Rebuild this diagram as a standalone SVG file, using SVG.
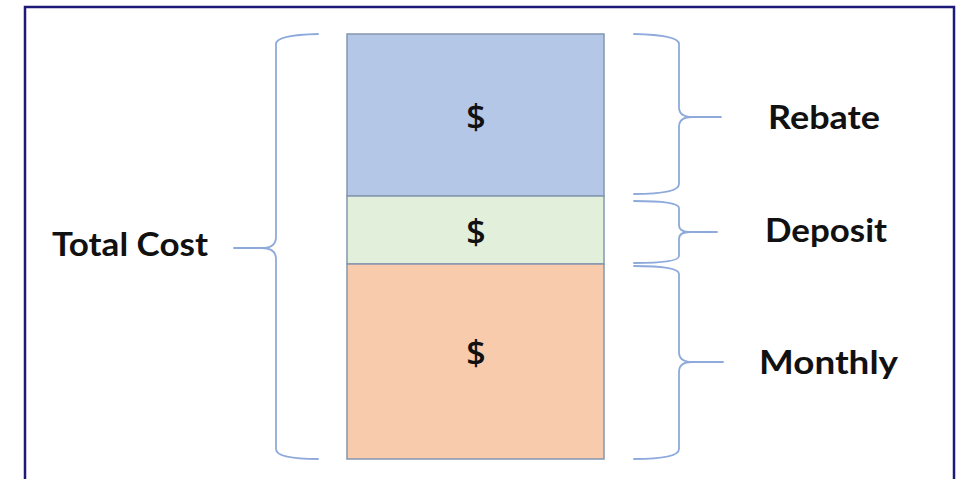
<svg xmlns="http://www.w3.org/2000/svg" width="961" height="479" viewBox="0 0 961 479">
<style>
.lbl{font-family:Lato,"Open Sans","Liberation Sans",sans-serif;font-weight:bold;font-size:32px;fill:#111}
.dol{font-family:"Open Sans",Lato,"Liberation Sans",sans-serif;font-weight:600;font-size:34px;fill:#111;text-anchor:middle}
.seg{stroke:#8497b0;stroke-width:1.5}
.brace{fill:none;stroke:#8eaadb;stroke-width:1.8;stroke-linecap:round}
</style>
<rect x="0" y="0" width="961" height="479" fill="#ffffff"/>
<rect x="25" y="7" width="929" height="500" fill="none" stroke="#1e1a78" stroke-width="2.5"/>
<g id="rebate-seg"><rect class="seg" x="347" y="34" width="257" height="162" fill="#b4c7e7"/><text class="dol" x="476" y="129">$</text></g>
<g id="deposit-seg"><rect class="seg" x="347" y="196" width="257" height="68" fill="#e2efda"/><text class="dol" x="476" y="244">$</text></g>
<g id="monthly-seg"><rect class="seg" x="347" y="264" width="257" height="195" fill="#f8cbad"/><text class="dol" x="476" y="365">$</text></g>
<g id="connectors">
<path class="brace" d="M318,34 Q276,35 276,44 L276,237 Q276,248 262,248 L234,248 M262,248 Q276,248 276,259 L276,449 Q276,459 318,459"/>
<path class="brace" d="M634,34 Q679,35 679,44 L679,107 Q679,117 692,117 L721,117 M692,117 Q679,117 679,127 L679,184 Q679,194 634,194"/>
<path class="brace" d="M634,201 Q679,201 679,208 L679,225 Q679,232 690,232 L717,232 M690,232 Q679,232 679,239 L679,256 Q679,263 634,263"/>
<path class="brace" d="M634,266 Q679,266 679,274 L679,352 Q679,362 692,362 L723,362 M692,362 Q679,362 679,372 L679,449 Q679,459 634,459"/>
</g>
<g id="total-cost"><text class="lbl" x="52" y="256" textLength="156" lengthAdjust="spacingAndGlyphs">Total Cost</text></g>
<g id="rebate"><text class="lbl" x="768" y="129" textLength="112" lengthAdjust="spacingAndGlyphs">Rebate</text></g>
<g id="deposit"><text class="lbl" x="765" y="242" textLength="122" lengthAdjust="spacingAndGlyphs">Deposit</text></g>
<g id="monthly"><text class="lbl" x="759" y="374" textLength="139" lengthAdjust="spacingAndGlyphs">Monthly</text></g>
</svg>
